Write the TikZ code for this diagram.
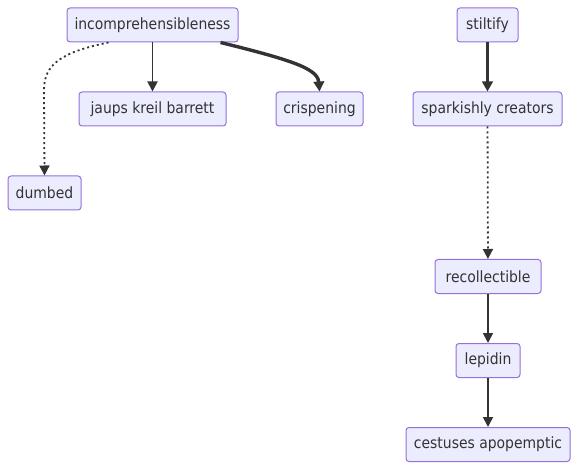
\documentclass[tikz,border=0pt]{standalone}
\usepackage{fontspec}
\setmainfont{DejaVu Sans Condensed}
\usetikzlibrary{arrows.meta}
\definecolor{nodefill}{HTML}{ECECFF}
\definecolor{nodeline}{HTML}{9370DB}
\definecolor{edge}{HTML}{333333}
\begin{document}
\begin{tikzpicture}[x=1pt,y=-1pt,
  box/.style={draw=nodeline,fill=nodefill,line width=1pt,rounded corners=3pt,
    minimum height=34pt,inner sep=0pt,text=edge,font=\fontsize{15.5}{18}\selectfont},
  link/.style={draw=edge,line width=1.8pt,-{Triangle[length=10pt,width=10pt]}},
  thicklink/.style={draw=edge,line width=3.4pt,-{Triangle[length=10pt,width=10.5pt]}},
  dotlink/.style={draw=edge,line width=1.8pt,dash pattern=on 2pt off 3pt,-{Triangle[length=10pt,width=10pt]}}]
\useasboundingbox (0,0) rectangle (578,470);
\node[box,minimum width=171pt] (inc) at (152.5,25) {incomprehensibleness};
\node[box,minimum width=147pt] (jau) at (152.5,109) {jaups kreil barrett};
\node[box,minimum width=87pt] (cri) at (319.5,109) {crispening};
\node[box,minimum width=73pt] (dum) at (44.5,193) {dumbed};
\node[box,minimum width=61pt] (sti) at (487.5,25) {stiltify};
\node[box,minimum width=149pt] (spa) at (487.5,109) {sparkishly creators};
\node[box,minimum width=106pt] (rec) at (488,276.5) {recollectible};
\node[box,minimum width=64pt] (lep) at (488,360.5) {lepidin};
\node[box,minimum width=164pt] (ces) at (488,444.5) {cestuses apopemptic};
\draw[link] (inc) -- (jau);
\draw[thicklink] ([xshift=-18pt]inc.south east) .. controls (300,62) and (319,70) .. (319,84) -- (cri.north);
\draw[dotlink] ([xshift=-44pt]inc.south) .. controls (62,52) and (44,64) .. (44,90) -- (dum.north);
\draw[thicklink] (sti) -- (spa);
\draw[dotlink] (spa) -- (rec);
\draw[link] (rec) -- (lep);
\draw[link] (lep) -- (ces);
\end{tikzpicture}
\end{document}
